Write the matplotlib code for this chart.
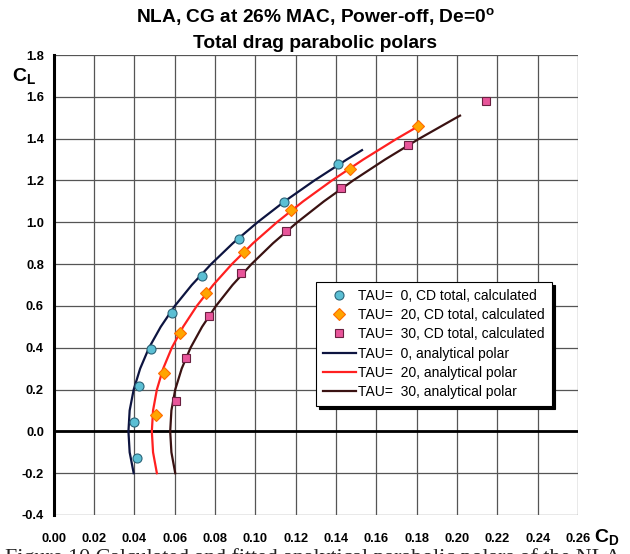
import matplotlib
matplotlib.use("Agg")
import matplotlib.pyplot as plt

plt.rcParams['font.family'] = ['Liberation Sans', 'DejaVu Sans']
plt.rcParams['mathtext.fontset'] = 'custom'
plt.rcParams['mathtext.rm'] = 'Liberation Sans:bold'
plt.rcParams['mathtext.bf'] = 'Liberation Sans:bold'

# calculated points (CD, CL)
cd_tau0 = [0.0415, 0.0400, 0.0424, 0.0485, 0.0589, 0.0737, 0.0920, 0.1143, 0.1408]
cl_tau0 = [-0.129, 0.045, 0.217, 0.392, 0.566, 0.743, 0.920, 1.097, 1.278]
cd_tau20 = [0.0510, 0.0545, 0.0626, 0.0758, 0.0945, 0.1178, 0.1470, 0.1807]
cl_tau20 = [0.077, 0.279, 0.472, 0.664, 0.860, 1.057, 1.257, 1.459]
cd_tau30 = [0.0607, 0.0656, 0.0768, 0.0930, 0.1152, 0.1426, 0.1755, 0.2146]
cl_tau30 = [0.147, 0.349, 0.553, 0.756, 0.960, 1.164, 1.370, 1.580]

# analytical polars
pol0_cl = [-0.2, -0.1, 0.0, 0.1, 0.2, 0.3, 0.4, 0.5, 0.6, 0.7, 0.8, 0.9, 1.0, 1.1, 1.2, 1.3, 1.345]
pol0_cd = [0.0397, 0.0377, 0.0371, 0.0377, 0.0397, 0.0429, 0.0473, 0.0531, 0.0601, 0.0685,
           0.0781, 0.0889, 0.1011, 0.1145, 0.1293, 0.1453, 0.1529]
pol20_cl = [-0.2, -0.1, 0.0, 0.1, 0.2, 0.3, 0.4, 0.5, 0.6, 0.7, 0.8, 0.9, 1.0, 1.1, 1.2, 1.3, 1.4, 1.46]
pol20_cd = [0.0512, 0.0493, 0.0487, 0.0493, 0.0512, 0.0543, 0.0586, 0.0642, 0.0710, 0.0791,
            0.0884, 0.0989, 0.1107, 0.1237, 0.1380, 0.1535, 0.1702, 0.1809]
pol30_cl = [-0.2, -0.1, 0.0, 0.1, 0.2, 0.3, 0.4, 0.5, 0.6, 0.7, 0.8, 0.9, 1.0, 1.1, 1.2, 1.3, 1.4, 1.5, 1.51]
pol30_cd = [0.0603, 0.0584, 0.0578, 0.0584, 0.0603, 0.0635, 0.0679, 0.0736, 0.0805, 0.0887,
            0.0981, 0.1088, 0.1208, 0.1340, 0.1485, 0.1643, 0.1813, 0.1996, 0.2015]

xticks = [0.00, 0.02, 0.04, 0.06, 0.08, 0.10, 0.12, 0.14, 0.16, 0.18, 0.20, 0.22, 0.24, 0.26]
yticks = [-0.4, -0.2, 0.0, 0.2, 0.4, 0.6, 0.8, 1.0, 1.2, 1.4, 1.6, 1.8]

fig = plt.figure(figsize=(6.30, 5.54), dpi=100)
ax = fig.add_axes([0.0851, 0.0704, 0.8324, 0.8303])

ax.set_xlim(0, 0.26)
ax.set_ylim(-0.4, 1.8)
ax.set_xticks(xticks)
ax.set_yticks(yticks)
ax.set_xticklabels(['%.2f' % v for v in xticks])
ax.set_yticklabels(['%.1f' % v for v in yticks])
ax.tick_params(length=0, labelsize=9.3)
ax.tick_params(axis='x', pad=13)
ax.tick_params(axis='y', pad=7)
for lab in ax.get_xticklabels() + ax.get_yticklabels():
    lab.set_fontweight('bold')

ax.grid(True, color='#555555', linewidth=0.9)
ax.set_axisbelow(True)
for s in ['top', 'right', 'bottom']:
    ax.spines[s].set_visible(False)
ax.spines['left'].set_linewidth(2.2)
ax.axhline(0, color='black', linewidth=2.0, zorder=1.5)

ax.plot(pol0_cd, pol0_cl, color='#0d1440', linewidth=1.6, label='TAU=  0, analytical polar', zorder=3)
ax.plot(pol20_cd, pol20_cl, color='#ff2020', linewidth=1.6, label='TAU=  20, analytical polar', zorder=3)
ax.plot(pol30_cd, pol30_cl, color='#3a1212', linewidth=1.6, label='TAU=  30, analytical polar', zorder=3)

ax.plot(cd_tau0, cl_tau0, 'o', ms=6.5, mfc='#5bbfd4', mec='#2a6478', mew=0.8,
        label='TAU=  0, CD total, calculated', zorder=4)
ax.plot(cd_tau20, cl_tau20, 'D', ms=5.8, mfc='#ffa500', mec='#ff6a00', mew=0.8,
        label='TAU=  20, CD total, calculated', zorder=4)
ax.plot(cd_tau30, cl_tau30, 's', ms=5.5, mfc='#e8559a', mec='#6a2040', mew=0.8,
        label='TAU=  30, CD total, calculated', zorder=4)

handles, labels = ax.get_legend_handles_labels()
order = [3, 4, 5, 0, 1, 2]
leg = ax.legend([handles[i] for i in order], [labels[i] for i in order],
                loc='upper left', bbox_to_anchor=(0.50, 0.507), borderaxespad=0,
                fontsize=10, handlelength=2.4, handletextpad=0.15, labelspacing=0.38,
                borderpad=0.5, fancybox=False, edgecolor='black', framealpha=1,
                shadow={'color': 'black', 'alpha': 1})
leg.get_frame().set_linewidth(0.8)

fig.text(0.5, 0.969, r'NLA, CG at 26% MAC, Power-off, De=0$^{\mathbf{o}}$',
         ha='center', va='center', fontsize=13.8, fontweight='bold')
fig.text(0.5, 0.922, 'Total drag parabolic polars',
         ha='center', va='center', fontsize=13.8, fontweight='bold')

fig.text(0.019, 0.862, r'$\mathbf{C_L}$', fontsize=14, ha='left', va='center')
fig.text(0.943, 0.031, r'$\mathbf{C_D}$', fontsize=14, ha='left', va='center')

fig.text(0.008, 0.011, 'Figure 10 Calculated and fitted analytical parabolic polars of the NLA',
         ha='left', va='top', fontsize=15.8, family='Liberation Serif', color='#222222')

fig.savefig('out.png', dpi=100)
